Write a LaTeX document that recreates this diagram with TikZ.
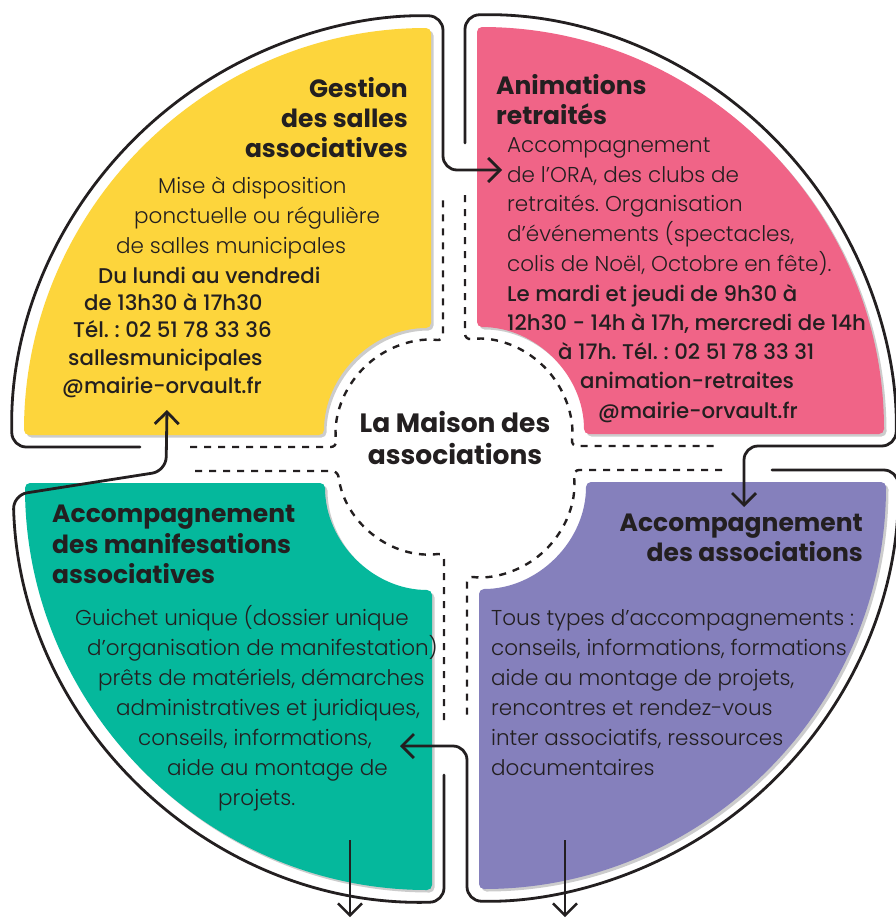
\documentclass[tikz,border=0pt]{standalone}
\usepackage{fontspec}
\setmainfont{Poppins}
\IfFontExistsTF{Poppins Light}{\newfontfamily\poplight{Poppins Light}}{\newfontfamily\poplight{Poppins}}
\IfFontExistsTF{Poppins Medium}{\newfontfamily\popmed{Poppins Medium}}{\newfontfamily\popmed{Poppins}[FakeBold=0.5]}
\usetikzlibrary{arrows.meta,shadows}
\definecolor{cyel}{HTML}{FDD53C}
\definecolor{cpink}{HTML}{F06487}
\definecolor{cpurp}{HTML}{8580BC}
\definecolor{cteal}{HTML}{05B89C}
\definecolor{ink}{HTML}{231F20}
\frenchspacing
\begin{document}
\begin{tikzpicture}[x=1pt,y=1pt,
  quad/.style={rounded corners=5pt, drop shadow={shadow xshift=2.5pt,shadow yshift=-2.5pt,opacity=0.2,fill=black}},
  outl/.style={draw=ink,line width=2.8pt,rounded corners=14pt,line cap=round,line join=round},
  dsh/.style={draw=ink,line width=2.4pt,dash pattern=on 7pt off 7pt,rounded corners=6pt},
  tip/.style={-{Straight Barb[length=12pt,width=24pt]}},
  ttl/.style={font=\fontsize{25}{29}\selectfont\bfseries,text=ink,inner sep=0pt},
  ctl/.style={font=\fontsize{26.5}{30}\selectfont\bfseries,text=ink,inner sep=0pt,anchor=base},
  bdy/.style={font=\fontsize{21.5}{25}\selectfont\poplight\frenchspacing,text=ink,inner sep=0pt,anchor=base west},
  med/.style={font=\fontsize{21.3}{25}\selectfont\popmed\frenchspacing,text=ink,inner sep=0pt,anchor=base west}]

\useasboundingbox (0,0) rectangle (896,-918);
\fill[white] (0,0) rectangle (896,-918);

% ---------- quadrant fills ----------
\fill[cyel,quad] (24,-435) arc[start angle=180,end angle=90,radius=407]
   -- (431,-328) arc[start angle=90,end angle=180,radius=107] -- cycle;
\fill[cpink,quad] (477,-27) arc[start angle=90,end angle=0,radius=407]
   -- (584,-434) arc[start angle=0,end angle=90,radius=107] -- cycle;
\fill[cpurp,quad] (886,-482) arc[start angle=0,end angle=-90,radius=407]
   -- (479,-589) arc[start angle=-90,end angle=0,radius=107] -- cycle;
\fill[cteal,quad] (432,-890) arc[start angle=-90,end angle=-180,radius=407]
   -- (325,-483) arc[start angle=180,end angle=270,radius=107] -- cycle;

% ---------- arrow targets ----------
\coordinate (ytip) at (502,-170);
\coordinate (ptip) at (744,-507);
\coordinate (utip) at (400,-746);
\coordinate (ttip) at (167,-410);
\coordinate (tdown) at (350,-917);
\coordinate (udown) at (565,-917);
\coordinate (tdstart) at (350,-840);
\coordinate (udstart) at (565,-840);

% ---------- solid outlines with flow arrows ----------
\draw[outl,tip] (140,-447) -- (12.2,-447) arc[start angle=181.64,end angle=88.36,radius=419]
   -- (443,-170) -- (ytip);
\draw[outl,tip] (465,-143) -- (465,-15.2) arc[start angle=91.64,end angle=-1.64,radius=419]
   -- (744,-446) -- (ptip);
\draw[outl,tip] (772,-470) -- (897.8,-470) arc[start angle=1.64,end angle=-91.64,radius=419]
   -- (467,-746) -- (utip);
\draw[outl,tip] (444,-775) -- (444,-901.8) arc[start angle=-88.36,end angle=-178.36,radius=419]
   -- (166,-471) -- (ttip);

% ---------- dashed inner outlines ----------
\draw[dsh] (190,-447) -- (336.8,-447) arc[start angle=187.26,end angle=82.74,radius=95] -- (443,-198);
\draw[dsh] (465,-195) -- (465,-339.8) arc[start angle=97.26,end angle=-7.26,radius=95] -- (716,-446);
\draw[dsh] (722,-470) -- (573.2,-470) arc[start angle=7.26,end angle=-97.26,radius=95] -- (467,-720);
\draw[dsh] (195,-471) -- (337.8,-471) arc[start angle=-172.74,end angle=-82.74,radius=95] -- (444,-725);

% ---------- bottom arrows ----------
\draw[draw=ink,line width=2.4pt,tip] (tdstart) -- (tdown);
\draw[draw=ink,line width=2.4pt,tip] (udstart) -- (udown);

% ---------- yellow texts ----------
\node[ttl,anchor=base east] (yt1) at (408,-97) {Gestion};
\node[ttl,anchor=base east] (yt2) at (408,-127) {des salles};
\node[ttl,anchor=base east] (yt3) at (408,-157) {associatives};
\node[bdy] (yb1) at (158,-193) {Mise à disposition};
\node[bdy] (yb2) at (134,-223) {ponctuelle ou régulière};
\node[bdy] (yb3) at (116,-253) {de salles municipales};
\node[med] (yb4) at (98,-283) {Du lundi au vendredi};
\node[med] (yb5) at (84,-310) {de 13h30 à 17h30};
\node[med] (yb6) at (73,-337) {Tél. : 02 51 78 33 36};
\node[med] (yb7) at (68,-365) {sallesmunicipales};
\node[med] (yb8) at (62,-393) {@mairie-orvault.fr};

% ---------- pink texts ----------
\node[ttl,anchor=base west] (pt1) at (496,-94) {Animations};
\node[ttl,anchor=base west] (pt2) at (496,-124) {retraités};
\node[bdy] (pb1) at (507,-152) {Accompagnement};
\node[bdy] (pb2) at (507,-182) {de l’ORA, des clubs de};
\node[bdy] (pb3) at (507,-211) {retraités. Organisation};
\node[bdy] (pb4) at (507,-241) {d’événements (spectacles,};
\node[bdy] (pb5) at (507,-271) {colis de Noël, Octobre en fête).};
\node[med] (pb6) at (507,-301) {Le mardi et jeudi de 9h30 à};
\node[med] (pb7) at (507,-330) {12h30 - 14h à 17h, mercredi de 14h};
\node[med] (pb8) at (558,-359) {à 17h. Tél. : 02 51 78 33 31};
\node[med] (pb9) at (580,-388) {animation-retraites};
\node[med] (pb10) at (598,-418) {@mairie-orvault.fr};

% ---------- centre ----------
\node[ctl] (c1) at (455,-432) {La Maison des};
\node[ctl] (c2) at (455,-464) {associations};

% ---------- purple texts ----------
\node[ttl,anchor=base east] (ut1) at (863,-531) {Accompagnement};
\node[ttl,anchor=base east] (ut2) at (863,-561) {des associations};
\node[bdy] (ub1) at (491,-625) {Tous types d’accompagnements :};
\node[bdy] (ub2) at (491,-655) {conseils, informations, formations};
\node[bdy] (ub3) at (491,-685) {aide au montage de projets,};
\node[bdy] (ub4) at (491,-715) {rencontres et rendez-vous};
\node[bdy] (ub5) at (491,-745) {inter associatifs, ressources};
\node[bdy] (ub6) at (491,-775) {documentaires};

% ---------- teal texts ----------
\node[ttl,anchor=base west] (tt1) at (52,-522) {Accompagnement};
\node[ttl,anchor=base west] (tt2) at (52,-553) {des manifesations};
\node[ttl,anchor=base west] (tt3) at (52,-583) {associatives};
\node[bdy] (tb1) at (75,-625) {Guichet unique (dossier unique};
\node[bdy] (tb2) at (87,-655) {d’organisation de manifestation)};
\node[bdy] (tb3) at (98,-685) {prêts de matériels, démarches};
\node[bdy] (tb4) at (116,-715) {administratives et juridiques,};
\node[bdy] (tb5) at (138,-745) {conseils, informations,};
\node[bdy] (tb6) at (167,-775) {aide au montage de};
\node[bdy] (tb7) at (218,-805) {projets.};
\end{tikzpicture}
\end{document}
